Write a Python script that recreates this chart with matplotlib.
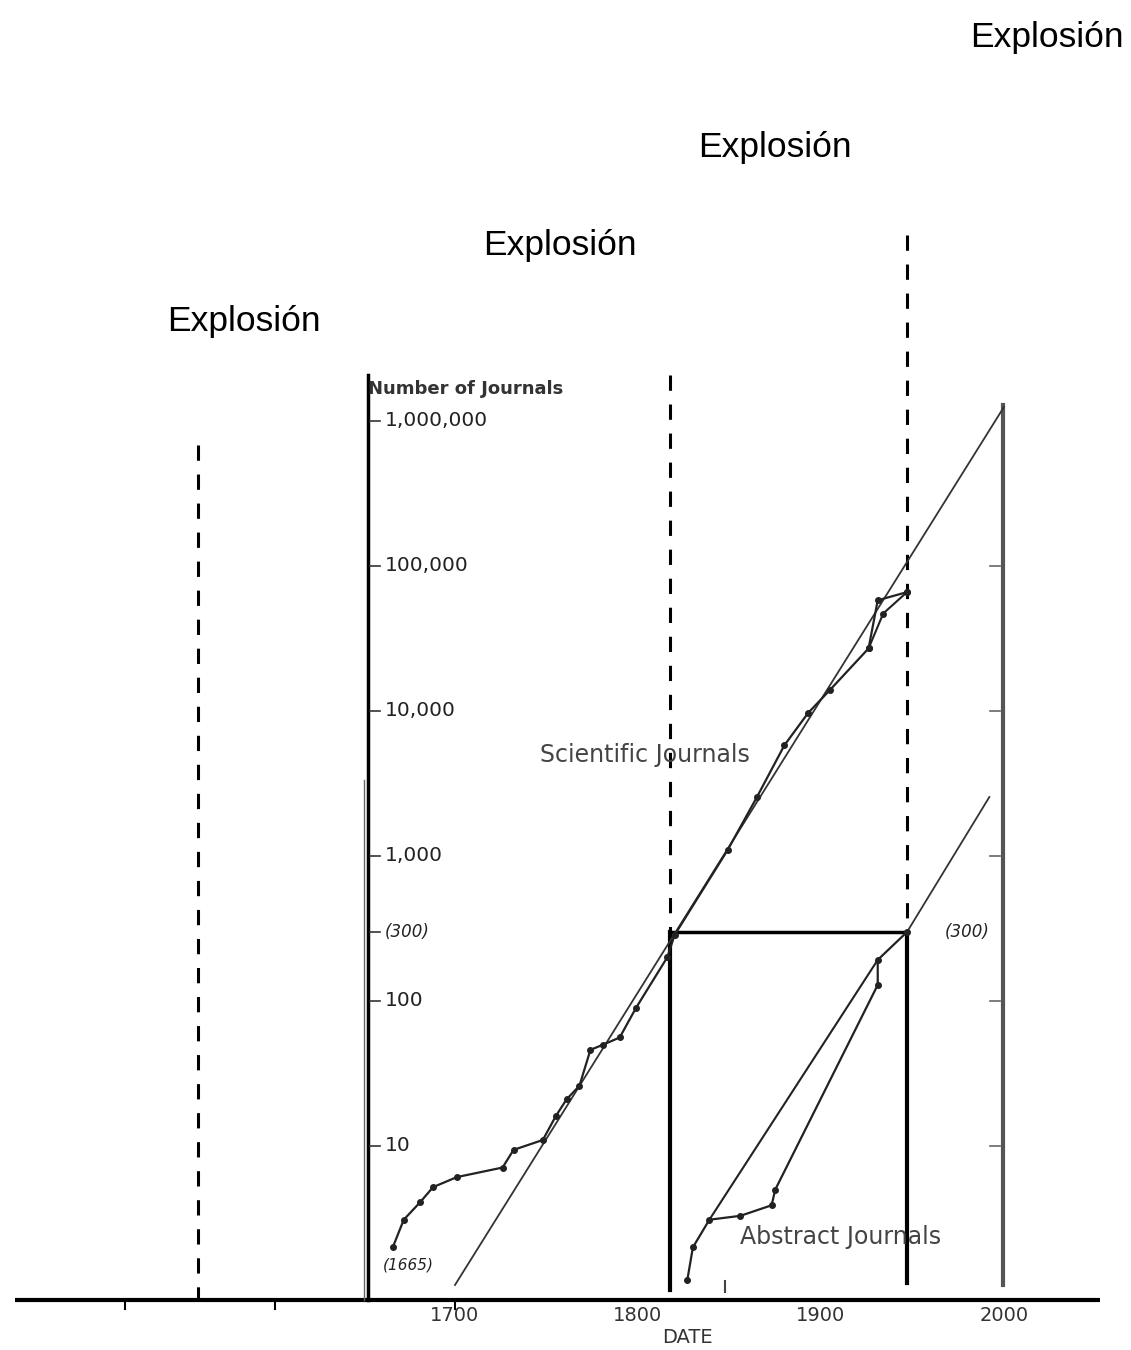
import matplotlib
matplotlib.use("Agg")
import matplotlib.pyplot as plt

# scientific journals (data curve)
sci_years = [1666, 1672, 1681, 1688, 1701, 1726, 1732, 1748, 1755, 1761, 1768, 1774,
             1781, 1790, 1799, 1816, 1820, 1849, 1865, 1880, 1893, 1905, 1926, 1931, 1947]
sci_counts = [2.0, 3.1, 4.1, 5.2, 6.1, 7.1, 9.4, 11, 16, 21, 26, 46,
              50, 56, 90, 200, 285, 1100, 2550, 5800, 9700, 14000, 27000, 58000, 66000]
sci_branch_years = [1926, 1934, 1947]
sci_branch_counts = [27000, 47000, 66000]
sci_trend_years = [1700, 2000]
sci_trend_counts = [1.1, 1.25e6]

# abstract journals
abs_years = [1827, 1830, 1839, 1856, 1873, 1875, 1931, 1931, 1947]
abs_counts = [1.2, 2.0, 3.1, 3.3, 3.9, 5.0, 129, 192, 299]
abs_branch_years = [1839, 1931]
abs_branch_counts = [3.1, 192]
abs_trend_years = [1947, 1992]
abs_trend_counts = [299, 2550]

ytick_values = [1e6, 1e5, 1e4, 1e3, 100, 10]
ytick_labels = ["1,000,000", "100,000", "10,000", "1,000", "100", "10"]
xtick_years = [1700, 1800, 1900, 2000]
crossover_level = 300
crossover_years = [1817.5, 1947]

explosion_px = [(970, 37), (698, 147), (483, 246), (167, 322)]

W, H = 1131, 1350
fig = plt.figure(figsize=(W / 100, H / 100), dpi=100)
ax = fig.add_axes([0, 0, 1, 1])
ax.set_yscale("log")
ax.set_xlim(1451.37, 2069.4)
ax.set_ylim(10 ** -0.407, 10 ** 8.903)
ax.axis("off")


def px_year(x):
    return 1700 + (x - 455) / 1.83


def px_val(y):
    return 10 ** ((1291 - y) / 145)


base = px_val(1300)

# main x axis and its ticks
ax.plot([px_year(15), px_year(1100)], [base, base], color="black", lw=3, solid_capstyle="butt")
for x in [125, 275, 455]:
    ax.plot([px_year(x)] * 2, [base, px_val(1309)], color="black", lw=1.5)
ax.plot([px_year(725)] * 2, [px_val(1281), px_val(1292)], color="#444", lw=1.5)

# left and right value axes
ax.plot([px_year(368)] * 2, [px_val(375), base], color="black", lw=2.5)
ax.plot([px_year(364)] * 2, [px_val(780), base], color="#666", lw=1)
ax.plot([px_year(1003)] * 2, [px_val(405), px_val(1285)], color="#555", lw=3)
for v in ytick_values:
    ax.plot([px_year(370), px_year(380)], [v, v], color="#333", lw=1.2)
for v in ytick_values[1:]:
    ax.plot([px_year(990), px_year(1000)], [v, v], color="#666", lw=1.2)
ax.plot([px_year(370), px_year(380)], [crossover_level] * 2, color="#333", lw=1.2)

for v, lab in zip(ytick_values, ytick_labels):
    ax.text(px_year(385), v, lab, fontsize=14.5, color="#222", va="center", ha="left")
ax.text(px_year(385), crossover_level, "(300)", fontsize=12, style="italic", color="#222",
        va="center", ha="left")
ax.text(px_year(945), crossover_level, "(300)", fontsize=12, style="italic", color="#222",
        va="center", ha="left")
ax.text(px_year(383), px_val(1265), "(1665)", fontsize=11, style="italic", color="#222",
        va="center", ha="left")
ax.text(px_year(368), px_val(389), "Number of Journals", fontsize=13, fontweight="bold",
        color="#333", va="center", ha="left")

for yr in xtick_years:
    ax.text(yr, px_val(1316), str(yr), fontsize=14, color="#333", ha="center", va="center")
ax.text(px_year(687), px_val(1338), "DATE", fontsize=14, color="#333", ha="center", va="center")

# dashed era separators
dash_kw = dict(color="black", lw=2.2, dashes=(5, 4.5))
ax.plot([px_year(198)] * 2, [px_val(445), base], **dash_kw)
ax.plot([crossover_years[0]] * 2, [px_val(375), crossover_level], **dash_kw)
ax.plot([crossover_years[1]] * 2, [px_val(235), crossover_level], **dash_kw)

# solid crossover box
ax.plot([crossover_years[0]] * 2, [crossover_level, px_val(1290)], color="black", lw=3)
ax.plot([crossover_years[1]] * 2, [crossover_level, px_val(1283)], color="black", lw=3)
ax.plot(crossover_years, [crossover_level] * 2, color="black", lw=2.5)

# curves
ax.plot(sci_trend_years, sci_trend_counts, color="#333", lw=1.3)
ax.plot(sci_years, sci_counts, color="#222", lw=1.6, marker="o", ms=4)
ax.plot(sci_branch_years, sci_branch_counts, color="#222", lw=1.5, marker="o", ms=4)
ax.plot(abs_trend_years, abs_trend_counts, color="#333", lw=1.3)
ax.plot(abs_years, abs_counts, color="#222", lw=1.6, marker="o", ms=4)
ax.plot(abs_branch_years, abs_branch_counts, color="#222", lw=1.5)

ax.text(px_year(540), px_val(755), "Scientific Journals", fontsize=17, color="#444",
        va="center", ha="left")
ax.text(px_year(740), px_val(1237), "Abstract Journals", fontsize=17, color="#444",
        va="center", ha="left")

for x, y in explosion_px:
    fig.text(x / W, 1 - y / H, "Explosión", fontsize=25.5, family="Liberation Sans",
             ha="left", va="center")

fig.savefig("out.png", dpi=100)
